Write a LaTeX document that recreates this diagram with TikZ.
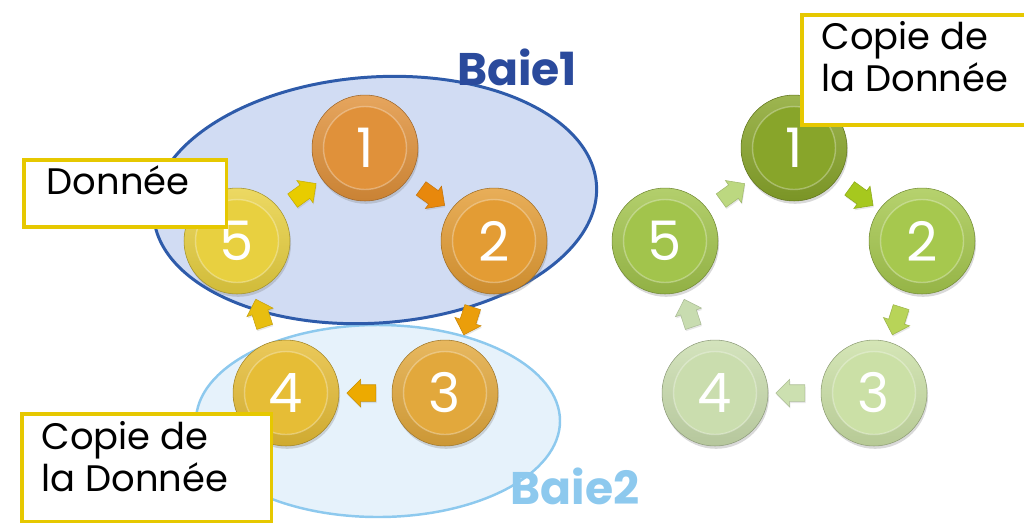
\documentclass[tikz,border=0pt]{standalone}
\usepackage{fontspec}
\setmainfont{Poppins}
\usetikzlibrary{shapes.arrows,shadows}

% ring colours
\definecolor{baieA}{HTML}{2E5BAA}
\definecolor{baieAfill}{HTML}{D1DCF3}
\definecolor{baieAtext}{HTML}{2A4A9C}
\definecolor{baieB}{HTML}{8DC9EE}
\definecolor{baieBfill}{HTML}{E6F2FB}
\definecolor{noteyellow}{HTML}{E6C800}
% left cycle
\definecolor{oa}{HTML}{E0913A}
\definecolor{ob}{HTML}{E39C34}
\definecolor{oc}{HTML}{E2A83C}
\definecolor{od}{HTML}{E6BD36}
\definecolor{oe}{HTML}{E8D040}
\definecolor{fab}{HTML}{E8880C}
\definecolor{fbc}{HTML}{EB9E0A}
\definecolor{fcd}{HTML}{EDAA00}
\definecolor{fde}{HTML}{E8BE10}
\definecolor{fea}{HTML}{E8CC00}
% right cycle
\definecolor{va}{HTML}{88A52A}
\definecolor{vb}{HTML}{A6C84E}
\definecolor{vc}{HTML}{CBE0A6}
\definecolor{vd}{HTML}{CADDAE}
\definecolor{ve}{HTML}{A2C44C}
\definecolor{gab}{HTML}{A6C81E}
\definecolor{gbc}{HTML}{B8D458}
\definecolor{gcd}{HTML}{CCE0B0}
\definecolor{gde}{HTML}{C8DCB0}
\definecolor{gea}{HTML}{BCD880}

\begin{document}
\begin{tikzpicture}[x=0.02cm, y=-0.02cm,
    disc/.style={circle, minimum size=2.12cm, inner sep=0pt, text=white,
      font=\fontsize{31pt}{31pt}\selectfont,
      top color=#1!82!white, bottom color=#1!90!black,
      draw=#1!70!black, line width=0.3pt,
      drop shadow={opacity=0.3, shadow xshift=0.6pt, shadow yshift=-1.6pt},
      path picture={
        \fill[#1] (path picture bounding box.center) circle (0.83cm);
        \draw[white, opacity=0.3, line width=0.8pt] (path picture bounding box.center) circle (0.83cm);
      }},
    flow/.style={single arrow, fill=#1, draw=#1!85!black, line width=0.3pt,
      inner xsep=0pt, inner ysep=0.16cm, minimum height=0.58cm,
      single arrow head extend=0.11cm, sloped, allow upside down,
      drop shadow={opacity=0.2, shadow xshift=0.4pt, shadow yshift=-1pt}},
    note/.style={draw=noteyellow, line width=2pt, fill=white, anchor=north west,
      inner ysep=0pt, font=\fontsize{21pt}{24pt}\selectfont},
    baie/.style={font=\fontsize{26pt}{26pt}\selectfont\bfseries}]

  \useasboundingbox (0,0) rectangle (1024,522);

  % the two bays
  \draw[draw=baieB, fill=baieBfill, line width=1.4pt] (378,421) ellipse [x radius=182, y radius=96];
  \draw[draw=baieA, fill=baieAfill, line width=1.7pt] (375,200) ellipse [x radius=222, y radius=123, rotate=4];
  \node[baie, text=baieAtext] (b1) at (517,67) {Baie1};
  \node[baie, text=baieB] (b2) at (575,486) {Baie2};

  % left cycle
  \node[disc=oa] (o1) at (365,148) {1};
  \node[disc=ob] (o2) at (494,241) {2};
  \node[disc=oc] (o3) at (445,393) {3};
  \node[disc=od] (o4) at (286,393) {4};
  \node[disc=oe] (o5) at (237,241) {5};

  \path (o1) -- node[flow=fab] {} (o2);
  \path (o2) -- node[flow=fbc] {} (o3);
  \path (o3) -- node[flow=fcd] {} (o4);
  \path (o4) -- node[flow=fde] {} (o5);
  \path (o5) -- node[flow=fea] {} (o1);

  % right cycle
  \node[disc=va] (v1) at (794,148) {1};
  \node[disc=vb] (v2) at (922,241) {2};
  \node[disc=vc] (v3) at (874,393) {3};
  \node[disc=vd] (v4) at (715,393) {4};
  \node[disc=ve] (v5) at (665,241) {5};

  \path (v1) -- node[flow=gab] {} (v2);
  \path (v2) -- node[flow=gbc] {} (v3);
  \path (v3) -- node[flow=gcd] {} (v4);
  \path (v4) -- node[flow=gde] {} (v5);
  \path (v5) -- node[flow=gea] {} (v1);

  % notes
  \node[note, inner xsep=0.46cm, text height=0.70cm, text depth=0.64cm] (data) at (22,158)
    {\parbox[t]{3.14cm}{Donnée}};
  \node[note, inner xsep=0.40cm, text height=0.72cm, text depth=1.44cm] (copyA) at (20,412)
    {\parbox[t]{4.2cm}{Copie de\\la Donnée}};
  \node[note, inner xsep=0.40cm, text height=0.70cm, text depth=1.50cm] (copyB) at (800,13)
    {\parbox[t]{4.0cm}{Copie de\\la Donnée}};
\end{tikzpicture}
\end{document}
